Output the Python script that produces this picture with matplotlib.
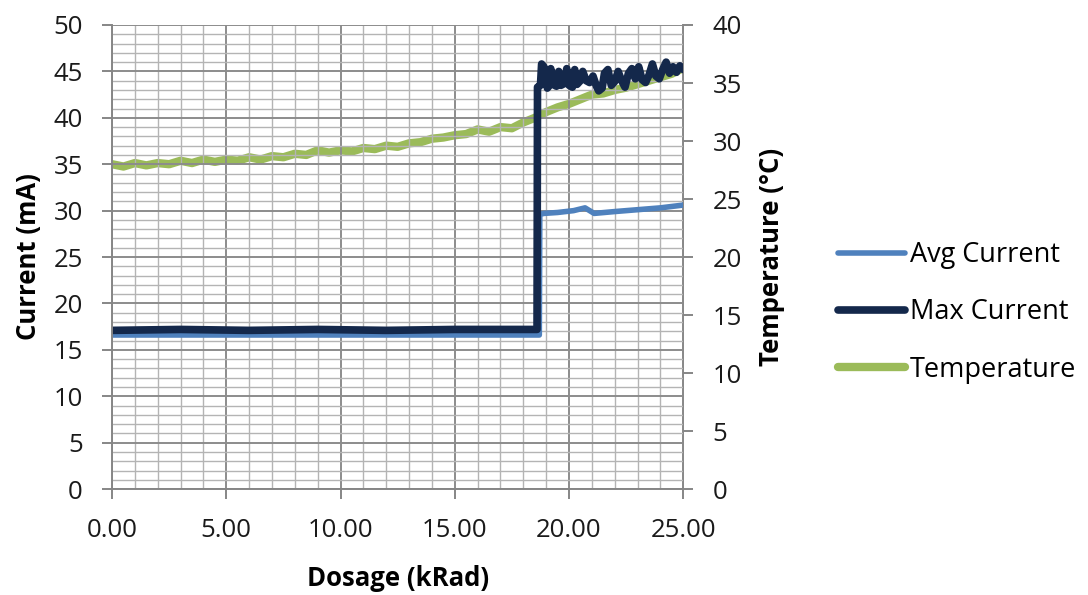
import matplotlib
matplotlib.use("Agg")
import matplotlib.pyplot as plt
from matplotlib.ticker import MultipleLocator, FormatStrFormatter

plt.rcParams['font.family'] = ['Open Sans', 'DejaVu Sans']

# dosage (kRad) / current (mA)
avg_x = [0.0, 4.0, 9.0, 14.0, 18.7, 18.72, 18.9, 19.5, 20.2, 20.7, 21.1, 22.0, 23.0, 24.0, 25.0]
avg_y = [16.6, 16.6, 16.6, 16.6, 16.6, 29.6, 29.7, 29.8, 30.0, 30.3, 29.7, 29.9, 30.1, 30.3, 30.6]

max_x = [0.0, 3.0, 6.0, 9.0, 12.0, 15.0, 18.6,
         18.62, 18.75, 18.80, 18.90, 19.00, 19.05, 19.15, 19.20, 19.30, 19.45,
         19.55, 19.65, 19.80, 19.90, 20.00, 20.15, 20.25, 20.35, 20.50, 20.60,
         20.75, 20.90, 21.05, 21.20, 21.30, 21.45, 21.55, 21.70, 21.85, 22.00,
         22.15, 22.30, 22.45, 22.60, 22.75, 22.90, 23.05, 23.20, 23.35, 23.50,
         23.65, 23.80, 23.95, 24.10, 24.25, 24.40, 24.55, 24.70, 24.85, 25.00]
max_y = [17.1, 17.2, 17.1, 17.2, 17.1, 17.2, 17.2,
         43.3, 43.5, 45.8, 45.5, 44.0, 43.2, 43.5, 45.3, 43.6, 43.4,
         45.0, 43.5, 43.7, 45.3, 43.5, 43.3, 45.2, 43.6, 44.0, 45.0,
         44.0, 43.8, 44.5, 43.4, 42.9, 43.2, 44.8, 45.2, 43.5, 43.9,
         45.0, 44.0, 43.3, 44.8, 45.3, 44.2, 45.5, 44.1, 43.8, 44.6,
         45.8, 44.5, 44.2, 45.2, 46.0, 44.8, 45.5, 44.9, 45.6, 45.2]

# temperature (°C), every 0.5 kRad
temp_x = [i * 0.5 for i in range(51)]
temp_y = [28.0, 27.8, 28.1, 27.9, 28.1, 28.0, 28.3, 28.1, 28.4, 28.2,
          28.4, 28.3, 28.6, 28.4, 28.7, 28.6, 28.9, 28.8, 29.2, 29.0,
          29.2, 29.1, 29.4, 29.3, 29.6, 29.5, 29.8, 29.9, 30.2, 30.3,
          30.5, 30.6, 31.0, 30.8, 31.2, 31.1, 31.6, 32.0, 32.5, 32.9,
          33.2, 33.6, 34.0, 34.1, 34.4, 34.6, 34.9, 35.2, 35.5, 35.8,
          36.3]

fig = plt.figure(figsize=(10.88, 5.95), dpi=100)
ax = fig.add_axes([0.103, 0.178, 0.525, 0.780])
ax2 = ax.twinx()

c_avg = '#4F81BD'
c_max = '#14284B'
c_temp = '#9BBB59'

l1, = ax.plot(avg_x, avg_y, color=c_avg, lw=4, solid_capstyle='round', label='Avg Current')
l2, = ax.plot(max_x, max_y, color=c_max, lw=5.5, solid_capstyle='round', label='Max Current')
l3, = ax2.plot(temp_x, temp_y, color=c_temp, lw=6, solid_capstyle='round', label='Temperature')
ax.set_zorder(ax2.get_zorder() + 1)
ax.patch.set_visible(False)

ax.set_xlim(0, 25)
ax.set_ylim(0, 50)
ax2.set_ylim(0, 40)

ax.xaxis.set_major_locator(MultipleLocator(5))
ax.xaxis.set_minor_locator(MultipleLocator(1))
ax.yaxis.set_major_locator(MultipleLocator(5))
ax.yaxis.set_minor_locator(MultipleLocator(1))
ax.xaxis.set_major_formatter(FormatStrFormatter('%.2f'))
ax2.yaxis.set_major_locator(MultipleLocator(5))

ax2.grid(False)
ax.grid(which='major', color='#8c8c8c', lw=1.4)
ax.grid(which='minor', color='#b4b4b4', lw=1.0)
ax.set_axisbelow(True)

gray = '#868686'
for a in (ax, ax2):
    for s in a.spines.values():
        s.set_visible(False)
ax.spines['left'].set_visible(True)
ax.spines['bottom'].set_visible(True)
ax2.spines['right'].set_visible(True)
for s in ('left', 'bottom'):
    ax.spines[s].set_color(gray)
    ax.spines[s].set_linewidth(1.4)
ax2.spines['right'].set_color(gray)
ax2.spines['right'].set_linewidth(1.4)

tick_kw = dict(which='major', length=7, width=1.4, color=gray, labelsize=18.5, labelcolor='#1a1a1a')
ax.tick_params(axis='y', pad=14, **tick_kw)
ax.tick_params(axis='x', pad=14, **tick_kw)
ax.tick_params(which='minor', length=0)
ax2.tick_params(axis='y', pad=14, **tick_kw)

ax.set_xlabel('Dosage (kRad)', fontsize=18.5, fontweight='bold', labelpad=16)
ax.set_ylabel('Current (mA)', fontsize=18.5, fontweight='bold', labelpad=8)
ax2.set_ylabel('Temperature (°C)', fontsize=18.5, fontweight='bold', labelpad=12)

fig.legend(handles=[l1, l2, l3], loc='center left', bbox_to_anchor=(0.770, 0.475),
           frameon=False, fontsize=19.5, handlelength=2.5, handletextpad=0.15,
           labelspacing=1.08, borderpad=0, borderaxespad=0)

fig.savefig('out.png', dpi=100)
